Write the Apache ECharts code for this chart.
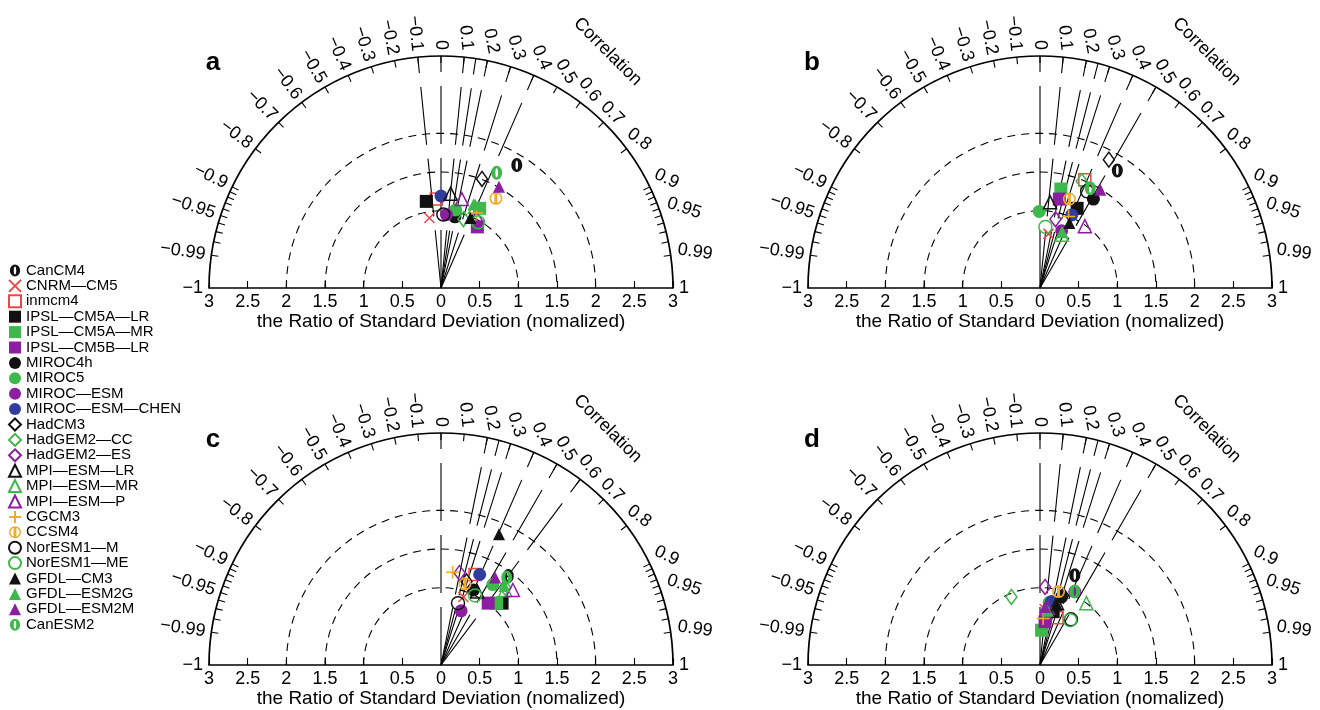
<!DOCTYPE html>
<html>
<head>
<meta charset="utf-8">
<script src="https://cdn.jsdelivr.net/npm/echarts@6/dist/echarts.min.js"></script>
<style>
  html, body { margin: 0; background: #fff; }
  #chart { width: 1320px; height: 710px; }
</style>
</head>
<body>
<div id="chart"></div>
<script>
// model names (legend order)
const models = ['CanCM4', 'CNRM—CM5', 'inmcm4', 'IPSL—CM5A—LR', 'IPSL—CM5A—MR', 'IPSL—CM5B—LR',
  'MIROC4h', 'MIROC5', 'MIROC—ESM', 'MIROC—ESM—CHEN', 'HadCM3', 'HadGEM2—CC', 'HadGEM2—ES',
  'MPI—ESM—LR', 'MPI—ESM—MR', 'MPI—ESM—P', 'CGCM3', 'CCSM4', 'NorESM1—M', 'NorESM1—ME',
  'GFDL—CM3', 'GFDL—ESM2G', 'GFDL—ESM2M', 'CanESM2'];

// normalized std-dev components [x, y] per model, one list per panel
const panelA = [[0.98, 1.59], [-0.15, 0.905], [-0.06, 1.15], [-0.19, 1.12], [0.50, 1.03], [0.47, 0.79],
  [0.18, 0.92], [0.19, 1.01], [0.07, 0.95], [0.0, 1.19], [0.53, 1.41], [0.29, 0.89], [0.46, 0.88],
  [0.125, 1.22], [0.44, 1.05], [0.27, 1.15], [0.46, 0.97], [0.71, 1.16], [0.03, 0.95], [0.48, 0.85],
  [0.38, 0.905], [0.42, 1.08], [0.75, 1.31], [0.72, 1.49]];
const panelB = [[1.0, 1.52], [0.11, 0.70], [0.58, 1.40], [0.48, 1.03], [0.27, 1.28], [0.25, 1.15],
  [0.69, 1.15], [-0.01, 0.99], [0.28, 0.74], [0.41, 0.945], [0.89, 1.66], [0.54, 1.38], [0.2, 0.89],
  [0.13, 1.11], [0.28, 0.69], [0.58, 0.80], [0.37, 0.925], [0.38, 1.15], [0.61, 1.25], [0.07, 0.79],
  [0.38, 0.84], [0.29, 0.72], [0.78, 1.27], [0.65, 1.29]];
const panelC = [[0.87, 1.15], [0.29, 0.88], [0.44, 1.17], [0.79, 0.80], [0.72, 0.80], [0.61, 0.80],
  [0.42, 0.97], [0.67, 1.04], [0.26, 0.70], [0.50, 1.17], [0.33, 1.08], [0.83, 1.0], [0.24, 1.19],
  [0.47, 0.95], [0.83, 0.97], [0.93, 0.97], [0.15, 1.20], [0.31, 1.05], [0.22, 0.80], [0.44, 0.90],
  [0.75, 1.69], [0.82, 1.02], [0.70, 1.13], [0.85, 1.13]];
const panelD = [[0.45, 1.16], [0.06, 0.72], [0.22, 0.61], [0.17, 0.69], [0.02, 0.45], [0.065, 0.56],
  [0.28, 0.88], [0.12, 0.81], [0.45, 0.95], [0.15, 0.82], [0.30, 0.90], [-0.37, 0.88], [0.065, 1.01],
  [0.22, 0.80], [0.60, 0.80], [0.10, 0.74], [0.04, 0.60], [0.24, 0.95], [0.40, 0.59], [0.39, 0.58],
  [0.22, 0.78], [0.10, 0.70], [0.065, 0.75], [0.45, 0.95]];
const panels = [panelA, panelB, panelC, panelD];
const panelLetters = ['a', 'b', 'c', 'd'];

// correlation of the long-dashed radial lines in each panel
const radialA = [-0.1, 0, 0.1, 0.15, 0.2, 0.3, 0.4];
const radialB = [0, 0.1, 0.2, 0.25, 0.3, 0.4, 0.5];
const radialC = [0, 0.2, 0.25, 0.3, 0.4, 0.5, 0.6];
const radialD = [0, 0.1, 0.2, 0.25, 0.3, 0.4, 0.5];
const radials = [radialA, radialB, radialC, radialD];

// correlation arc ticks and labels, std-dev reference circles
const corrTicks = [-0.99, -0.98, -0.97, -0.96, -0.95, -0.94, -0.93, -0.92, -0.91, -0.9, -0.8, -0.7, -0.6,
  -0.5, -0.4, -0.3, -0.2, -0.1, 0, 0.1, 0.2, 0.3, 0.4, 0.5, 0.6, 0.7, 0.8, 0.9, 0.91, 0.92, 0.93, 0.94,
  0.95, 0.96, 0.97, 0.98, 0.99];
const corrLabels = [-1, -0.99, -0.95, -0.9, -0.8, -0.7, -0.6, -0.5, -0.4, -0.3, -0.2, -0.1, 0,
  0.1, 0.2, 0.3, 0.4, 0.5, 0.6, 0.7, 0.8, 0.9, 0.95, 0.99, 1];
const sdRings = [1, 1.5, 2];
const sdMax = 3;

const FONT = '"Liberation Sans", Arial, Helvetica, sans-serif';
const K = '#111111', G = '#3db84a', P = '#8b1fa0', B = '#2f3e9c', RD = '#ee4646', OR = '#f1aa2c';

// marker shapes
const ZERO = 'path://M6,0 A6,7 0 1,1 6,14 A6,7 0 1,1 6,0 Z M6,2.4 A1.4,4.6 0 1,0 6,11.6 A1.4,4.6 0 1,0 6,2.4 Z';
const PHI = 'path://M6,0 A6,6 0 1,1 6,12 A6,6 0 1,1 6,0 Z M6,1.5 A4.5,4.5 0 1,0 6,10.5 A4.5,4.5 0 1,0 6,1.5 Z M4.6,1.2 L7.4,1.2 L7.4,10.8 L4.6,10.8 Z';
const CROSS = 'path://M0,0 L10,10 M10,0 L0,10';
const PLUS = 'path://M5,0 L5,10 M0,5 L10,5';

const markerStyle = [
  { symbol: ZERO, color: K, fill: true, size: [11, 14] },
  { symbol: CROSS, color: RD, fill: false, size: 10 },
  { symbol: 'rect', color: RD, fill: false, size: 12 },
  { symbol: 'rect', color: K, fill: true, size: 13 },
  { symbol: 'rect', color: G, fill: true, size: 13 },
  { symbol: 'rect', color: P, fill: true, size: 13 },
  { symbol: 'circle', color: K, fill: true, size: 13 },
  { symbol: 'circle', color: G, fill: true, size: 13 },
  { symbol: 'circle', color: P, fill: true, size: 13 },
  { symbol: 'circle', color: B, fill: true, size: 13 },
  { symbol: 'diamond', color: K, fill: false, size: [11, 15] },
  { symbol: 'diamond', color: G, fill: false, size: [11, 15] },
  { symbol: 'diamond', color: P, fill: false, size: [11, 15] },
  { symbol: 'triangle', color: K, fill: false, size: 13 },
  { symbol: 'triangle', color: G, fill: false, size: 13 },
  { symbol: 'triangle', color: P, fill: false, size: 13 },
  { symbol: PLUS, color: OR, fill: false, size: 13 },
  { symbol: PHI, color: OR, fill: true, size: 13 },
  { symbol: 'circle', color: K, fill: false, size: 13 },
  { symbol: 'circle', color: G, fill: false, size: 13 },
  { symbol: 'triangle', color: K, fill: true, size: 12 },
  { symbol: 'triangle', color: G, fill: true, size: 12 },
  { symbol: 'triangle', color: P, fill: true, size: 12 },
  { symbol: ZERO, color: G, fill: true, size: [11, 14] }
];

const grids = [
  { left: 209, top: 56, width: 464, height: 232 },
  { left: 808, top: 56, width: 464, height: 232 },
  { left: 209, top: 433, width: 464, height: 232 },
  { left: 808, top: 433, width: 464, height: 232 }
];

const measureCtx = document.createElement('canvas').getContext('2d');
function textWidth(s, size) {
  measureCtx.font = size + 'px ' + FONT;
  return measureCtx.measureText(s).width;
}

function fmtCorr(c) {
  return c < 0 ? '−' + String(-c) : String(c);
}

/**
 * 画相关系数弧、参考圆和放射线
 */
function drawFrame(lines) {
  return function (params, api) {
    const o = api.coord([0, 0]);
    const u = api.size([1, 1])[0];
    const R = sdMax * u;
    const at = (r, c) => [o[0] + r * c, o[1] - r * Math.sqrt(Math.max(0, 1 - c * c))];
    const kids = [];

    sdRings.forEach(r => {
      kids.push({
        type: 'arc',
        shape: { cx: o[0], cy: o[1], r: r * u, startAngle: Math.PI, endAngle: 2 * Math.PI },
        style: { stroke: '#000', fill: 'none', lineWidth: 1.1, lineDash: [8, 6] }
      });
    });

    lines.forEach(c => {
      const e = at(R, c);
      kids.push({
        type: 'line',
        shape: { x1: o[0], y1: o[1], x2: e[0], y2: e[1] },
        style: { stroke: '#000', lineWidth: 1.1, lineDash: [58, 14] }
      });
    });

    kids.push({
      type: 'arc',
      shape: { cx: o[0], cy: o[1], r: R, startAngle: Math.PI, endAngle: 2 * Math.PI },
      style: { stroke: '#000', fill: 'none', lineWidth: 1.7 }
    });

    corrTicks.forEach(c => {
      const a = at(R, c), b = at(R - 7, c);
      kids.push({
        type: 'line',
        shape: { x1: a[0], y1: a[1], x2: b[0], y2: b[1] },
        style: { stroke: '#000', lineWidth: 1.1 }
      });
    });

    const fs = 18;
    corrLabels.forEach(c => {
      const txt = fmtCorr(c);
      const w = textWidth(txt, fs), h = 13;
      const th = Math.acos(c);
      const rot = -Math.min(th, Math.PI - th);
      const n = [Math.cos(th), Math.sin(th)];
      const ud = [Math.cos(rot), Math.sin(rot)];
      const vd = [-Math.sin(rot), Math.cos(rot)];
      const ext = w / 2 * Math.abs(ud[0] * n[0] + ud[1] * n[1]) + h / 2 * Math.abs(vd[0] * n[0] + vd[1] * n[1]);
      const d = R + 6 + ext;
      kids.push({
        type: 'text',
        x: o[0] + n[0] * d,
        y: o[1] - n[1] * d,
        rotation: rot,
        style: { text: txt, fill: '#000', fontSize: fs, fontFamily: FONT, align: 'center', verticalAlign: 'middle' }
      });
    });

    // 标题 Correlation
    const tr = 3.74 * u, ta = 54.8 * Math.PI / 180;
    kids.push({
      type: 'text',
      x: o[0] + tr * Math.cos(ta),
      y: o[1] - tr * Math.sin(ta),
      rotation: -Math.PI / 4,
      style: { text: 'Correlation', fill: '#000', fontSize: 18, fontFamily: FONT, align: 'center', verticalAlign: 'middle' }
    });

    return { type: 'group', children: kids };
  };
}

const chart = echarts.init(document.getElementById('chart'));

const xAxes = grids.map((g, i) => ({
  type: 'value', gridIndex: i, min: -3, max: 3, interval: 0.5,
  name: 'the Ratio of Standard Deviation (nomalized)',
  nameLocation: 'middle', nameGap: 24,
  nameTextStyle: { fontSize: 19, fontFamily: FONT, color: '#000' },
  axisLine: { show: true, onZero: false, lineStyle: { color: '#000', width: 1.7 } },
  axisTick: { show: true, inside: true, length: 7, lineStyle: { color: '#000', width: 1.1 } },
  axisLabel: {
    show: true, margin: 5, fontSize: 18, fontFamily: FONT, color: '#000',
    showMinLabel: true, showMaxLabel: true,
    formatter: v => String(Math.abs(v))
  },
  splitLine: { show: false }
}));
const yAxes = grids.map((g, i) => ({
  type: 'value', gridIndex: i, min: 0, max: 3, show: false, splitLine: { show: false }
}));

const series = [];
panels.forEach((pts, p) => {
  series.push({
    type: 'custom', xAxisIndex: p, yAxisIndex: p, data: [[0, 0]],
    renderItem: drawFrame(radials[p]), silent: true, clip: false, z: 1
  });
  models.forEach((name, i) => {
    const st = markerStyle[i];
    series.push({
      type: 'scatter', name: name, xAxisIndex: p, yAxisIndex: p,
      data: [pts[i]], symbol: st.symbol, symbolSize: st.size, z: 3,
      itemStyle: st.fill
        ? { color: st.color, opacity: 1 }
        : { color: 'rgba(0,0,0,0)', borderColor: st.color, borderWidth: 1.5, opacity: 1 },
      emphasis: { disabled: true }
    });
  });
});

const option = {
  backgroundColor: '#fff',
  animation: false,
  grid: grids,
  xAxis: xAxes,
  yAxis: yAxes,
  legend: {
    orient: 'vertical', left: 8, top: 263, padding: 0,
    itemWidth: 12, itemHeight: 12, itemGap: 0.4,
    selectedMode: false,
    textStyle: { fontSize: 15, fontFamily: FONT, color: '#000', lineHeight: 14 },
    data: models
  },
  graphic: panelLetters.map((t, i) => ({
    type: 'text',
    x: grids[i].left + 4,
    y: grids[i].top + 7,
    style: { text: t, fontSize: 26, fontWeight: 'bold', fontFamily: FONT, fill: '#000', align: 'center', verticalAlign: 'middle' }
  })),
  series: series
};

chart.setOption(option);
</script>
</body>
</html>
